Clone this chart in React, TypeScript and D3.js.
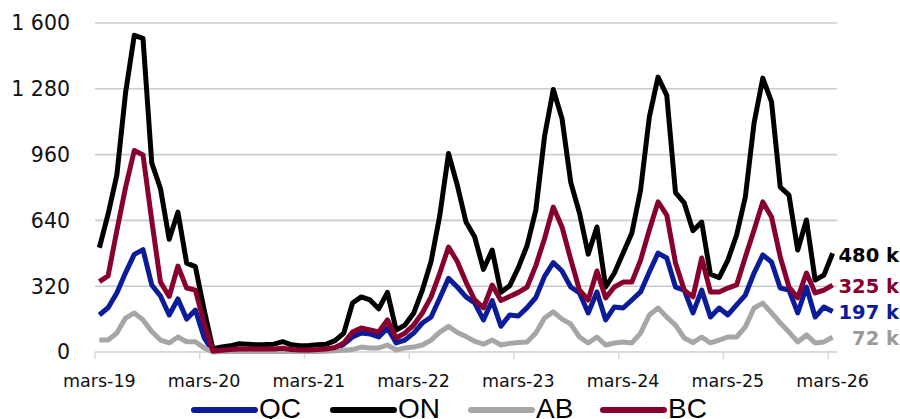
import * as d3 from 'd3';

// monthly values (k), mars-2019 .. mars-2026
const QC = [
  180, 215, 287, 385, 475, 498, 326, 272, 180, 258, 160, 204,
  70, 3, 4, 5, 6, 6, 6, 6, 6, 8, 5, 5,
  5, 6, 8, 15, 38, 73, 92, 88, 73, 117, 44, 58,
  92, 141, 170, 263, 358, 316, 268, 238, 156, 250, 125, 180,
  175, 216, 265, 368, 435, 394, 316, 287, 190, 292, 156, 219,
  214, 253, 292, 389, 481, 457, 316, 301, 190, 301, 170, 214,
  180, 229, 277, 384, 472, 438, 311, 301, 190, 316, 170, 219,
  197,
];
const ON = [
  507, 670, 860, 1260, 1540, 1525, 920, 795, 548, 680, 432, 415,
  205, 15, 25, 30, 40, 38, 35, 36, 38, 50, 35, 30,
  32, 35, 38, 55, 92, 238, 268, 253, 210, 290, 107, 131,
  188, 301, 440, 665, 965, 812, 632, 559, 402, 496, 290, 322,
  410, 518, 690, 1050, 1277, 1135, 825, 676, 476, 608, 316, 384,
  481, 579, 788, 1143, 1337, 1248, 775, 725, 590, 632, 378, 362,
  447, 569, 754, 1114, 1332, 1216, 802, 763, 496, 642, 350, 374,
  480,
];
const AB = [
  58, 58, 92, 165, 190, 156, 100, 58, 44, 73, 50, 50,
  20, 0, 2, 3, 3, 3, 3, 3, 3, 4, 3, 3,
  3, 3, 4, 6, 8, 12, 24, 20, 20, 34, 10, 20,
  24, 34, 58, 97, 125, 95, 75, 52, 38, 58, 34, 42,
  46, 49, 92, 165, 195, 160, 136, 73, 44, 73, 34, 44,
  49, 44, 92, 180, 214, 170, 131, 68, 46, 73, 44, 58,
  73, 73, 122, 214, 238, 190, 141, 97, 49, 83, 44, 49,
  72,
];
const BC = [
  342, 370, 590, 800, 980, 958, 640, 340, 270, 418, 311, 301,
  140, 5, 8, 12, 15, 15, 15, 14, 15, 18, 12, 10,
  10, 12, 15, 22, 44, 97, 117, 107, 97, 156, 68, 92,
  131, 190, 268, 384, 510, 440, 340, 253, 215, 326, 250, 270,
  290, 316, 420, 552, 705, 608, 450, 301, 253, 394, 263, 316,
  340, 340, 447, 593, 730, 666, 433, 301, 268, 457, 292, 292,
  311, 326, 462, 593, 730, 657, 462, 316, 263, 384, 287, 301,
  325,
];

const tickLabels = ['mars-19', 'mars-20', 'mars-21', 'mars-22', 'mars-23', 'mars-24', 'mars-25', 'mars-26'];
const yTicks = [0, 320, 640, 960, 1280, 1600];
const endLabels = ['197 k', '480 k', '72 k', '325 k'];

const series = [
  { name: 'QC', values: QC, color: '#0a1c98', label: endLabels[0], labelY: 312 },
  { name: 'ON', values: ON, color: '#000000', label: endLabels[1], labelY: 255 },
  { name: 'AB', values: AB, color: '#a6a6a6', label: endLabels[2], labelY: 338, labelColor: '#9a9a9a' },
  { name: 'BC', values: BC, color: '#87002f', label: endLabels[3], labelY: 286 },
];

const WIDTH = 900;
const HEIGHT = 419;
const PLOT = { left: 95, right: 837, top: 23, bottom: 352 };
const FONT = '"DejaVu Sans", sans-serif';

const frLocale = d3.formatLocale({ decimal: ',', thousands: '\u00a0', grouping: [3], currency: ['', ' €'] });
const fmt = frLocale.format(',d');

export default function App() {
  const n = QC.length;
  const x = d3.scaleLinear().domain([0, n]).range([PLOT.left, PLOT.right]);
  const y = d3.scaleLinear().domain([0, 1600]).range([PLOT.bottom, PLOT.top]);

  const line = d3
    .line<number>()
    .x((_, i) => x(i + 0.5))
    .y((d) => y(d));

  const yearStarts = tickLabels.map((_, k) => k * 12);

  // legend positions
  const legendX = [194, 333, 471, 603];

  return (
    <svg
      width={WIDTH}
      height={HEIGHT}
      style={{ position: 'absolute', left: 0, top: 0, background: '#fff' }}
      fontFamily={FONT}
    >
      {/* gridlines */}
      {yTicks.slice(1).map((t) => (
        <line key={t} x1={PLOT.left} x2={PLOT.right} y1={y(t)} y2={y(t)} stroke="#cbcbcb" strokeWidth={1.6} />
      ))}
      {/* y labels */}
      {yTicks.map((t) => (
        <text key={t} x={70} y={y(t)} dy="0.36em" textAnchor="end" fontSize={20.5} fill="#111">
          {fmt(t)}
        </text>
      ))}
      {/* x axis */}
      <line x1={PLOT.left} x2={PLOT.right} y1={PLOT.bottom} y2={PLOT.bottom} stroke="#d9d9d9" strokeWidth={2} />
      {yearStarts.map((s) => (
        <line key={s} x1={x(s)} x2={x(s)} y1={PLOT.bottom} y2={PLOT.bottom + 7} stroke="#d9d9d9" strokeWidth={1.5} />
      ))}
      {tickLabels.map((lbl, k) => (
        <text key={lbl} x={x(yearStarts[k] + 0.5)} y={387} textAnchor="middle" fontSize={17.5} fill="#111">
          {lbl}
        </text>
      ))}
      {/* lines */}
      {series.map((s) => (
        <path
          key={s.name}
          d={line(s.values) ?? ''}
          fill="none"
          stroke={s.color}
          strokeWidth={5}
          strokeLinejoin="round"
          strokeLinecap="butt"
        />
      ))}
      {/* end labels */}
      {series.map((s) => (
        <text
          key={s.name}
          x={899}
          y={s.labelY}
          dy="0.36em"
          textAnchor="end"
          fontSize={19.5}
          fontWeight="bold"
          fill={s.labelColor ?? s.color}
        >
          {s.label}
        </text>
      ))}
      {/* legend */}
      {series.map((s, i) => (
        <g key={s.name}>
          <line
            x1={legendX[i]}
            x2={legendX[i] + 61}
            y1={410}
            y2={410}
            stroke={s.color}
            strokeWidth={6}
            strokeLinecap="round"
          />
          <text x={legendX[i] + 65} y={417.5} fontSize={28} fontFamily='"Liberation Sans", Arial, sans-serif' fill="#000">
            {s.name}
          </text>
        </g>
      ))}
    </svg>
  );
}
